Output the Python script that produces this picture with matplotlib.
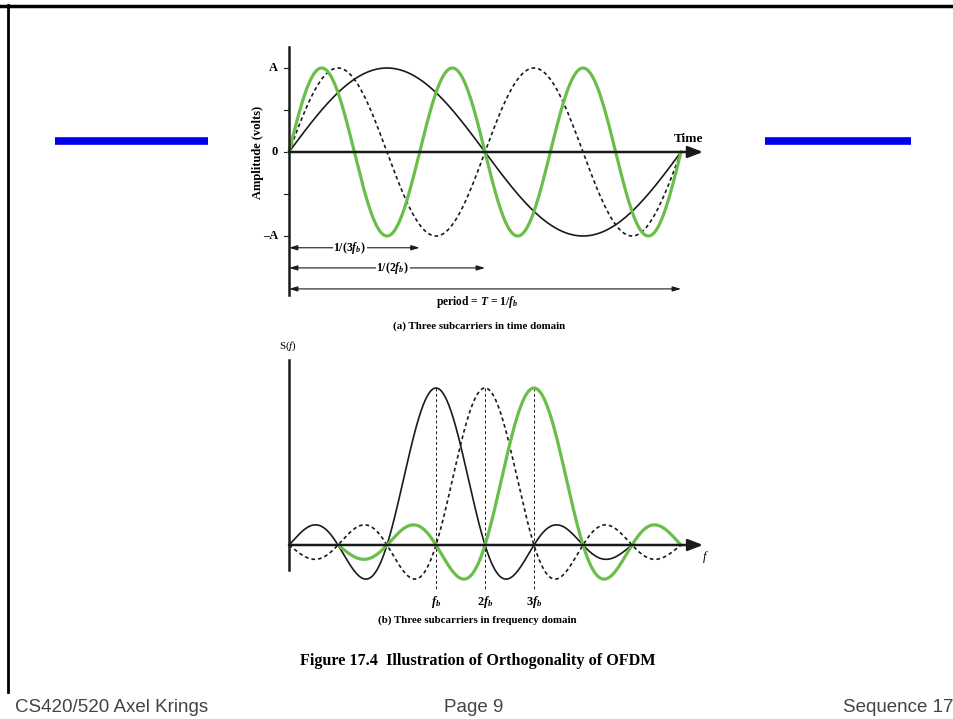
import numpy as np
import matplotlib
matplotlib.use('Agg')
import matplotlib.pyplot as plt

plt.rcParams['mathtext.fontset'] = 'custom'
plt.rcParams['mathtext.rm'] = 'Liberation Serif'
plt.rcParams['mathtext.it'] = 'Liberation Serif:italic'
plt.rcParams['mathtext.bf'] = 'Liberation Serif:italic:bold'

SERIF = 'Liberation Serif'
GREEN = '#6abf4b'

# time domain: harmonics of f_b over one period T
harmonics = [1, 2, 3]
time_styles = ['solid', 'dashed', 'green']
y_ticks = [1, 0.5, 0, -0.5, -1]
y_tick_labels = {1: 'A', 0: '0', -1: '\u2013A'}
span_ends = [1 / 3, 1 / 2, 1]
span_labels = [r'1/(3$\mathbf{f_b}$)', r'1/(2$\mathbf{f_b}$)',
               r'period = $\mathbf{T}$ = 1/$\mathbf{f_b}$']

# frequency domain: sinc spectra centred at f_b, 2f_b, 3f_b
centers = [1, 2, 3]
f_ranges = [(-2, 5), (-2, 6), (-1, 6)]
freq_styles = ['solid', 'dashed', 'green']
freq_tick_labels = [r'$\mathbf{f_b}$', r'2$\mathbf{f_b}$', r'3$\mathbf{f_b}$']

W, H = 954, 719
fig = plt.figure(figsize=(W / 100, H / 100), dpi=100)


def make_axes(px_left, px_top, px_right, px_bottom, x0px, xscale, y0px, yscale):
    ax = fig.add_axes([px_left / W, 1 - px_bottom / H,
                       (px_right - px_left) / W, (px_bottom - px_top) / H])
    ax.set_xlim((px_left - x0px) / xscale, (px_right - x0px) / xscale)
    ax.set_ylim((y0px - px_bottom) / yscale, (y0px - px_top) / yscale)
    ax.axis('off')
    return ax


def style_kw(s):
    if s == 'green':
        return dict(color=GREEN, lw=2.3, zorder=3)
    if s == 'dashed':
        return dict(color='#1a1a1a', lw=1.2, linestyle=(0, (2.2, 1.8)), zorder=2)
    return dict(color='#1a1a1a', lw=1.2, zorder=2)


arrow_head = dict(arrowstyle='-|>,head_length=0.9,head_width=0.35', color='#1a1a1a', lw=1.8,
                  shrinkA=0, shrinkB=0)
span_arrow = dict(arrowstyle='<|-|>,head_length=0.5,head_width=0.15', color='#1a1a1a', lw=0.8,
                  shrinkA=0, shrinkB=0)

# ---------- (a) time domain ----------
ax1 = make_axes(230, 30, 725, 335, 289, 392, 152, 84)
t = np.linspace(0, 1, 800)
for h, s in zip(harmonics, time_styles):
    ax1.plot(t, np.sin(2 * np.pi * h * t), **style_kw(s))

ax1.plot([0, 0], [-1.70, 1.25], color='#1a1a1a', lw=1.8, zorder=4)
ax1.annotate('', xy=(1.056, 0), xytext=(0, 0), arrowprops=arrow_head, zorder=4)
for v in y_ticks:
    ax1.plot([-0.013, 0], [v, v], color='#1a1a1a', lw=0.8)
    if v in y_tick_labels:
        ax1.text(-0.028, v, y_tick_labels[v], ha='right', va='center',
                 family=SERIF, weight='bold', fontsize=9)
ax1.text(-0.079, 0, 'Amplitude (volts)', rotation=90, ha='center', va='center',
         family=SERIF, weight='bold', fontsize=9)
ax1.text(1.056, 0.15, 'Time', ha='right', va='center', family=SERIF, weight='bold', fontsize=9.5)

span_y = [-1.14, -1.38, -1.63]
label_x = [0.155, 0.265, 0.48]
for end, lab, yy, lx in zip(span_ends, span_labels, span_y, label_x):
    ax1.annotate('', xy=(end, yy), xytext=(0, yy), arrowprops=span_arrow)
    if end < 1:
        ax1.text(lx, yy, lab, ha='center', va='center', family=SERIF, weight='bold',
                 fontsize=8.5, bbox=dict(facecolor='white', edgecolor='none', pad=0.5))
    else:
        ax1.text(lx, yy - 0.06, lab, ha='center', va='top', family=SERIF, weight='bold',
                 fontsize=8.3)
ax1.text(0.485, -2.07, '(a) Three subcarriers in time domain', ha='center', va='center',
         family=SERIF, weight='bold', fontsize=7.8)

# ---------- (b) frequency domain ----------
ax2 = make_axes(230, 335, 725, 640, 289 + 2 * 49, 49, 545, 157)
for c, (lo, hi), s in zip(centers, f_ranges, freq_styles):
    f = np.linspace(lo, hi, 800)
    ax2.plot(f, np.sinc(f - c), **style_kw(s))
    ax2.plot([c, c], [1, -0.29], color='#1a1a1a', lw=0.7, linestyle=(0, (3, 2.5)), zorder=1)

ax2.plot([-2, -2], [-0.16, 1.18], color='#1a1a1a', lw=1.8, zorder=4)
ax2.annotate('', xy=(6.45, 0), xytext=(-2, 0), arrowprops=arrow_head, zorder=4)
ax2.text(-2.02, 1.22, r'S($f$)', ha='center', va='bottom', family=SERIF, fontsize=8)
ax2.text(6.5, -0.075, r'$f$', ha='center', va='center', fontsize=9)
for c, lab in zip(centers, freq_tick_labels):
    ax2.text(c, -0.31, lab, ha='center', va='top', family=SERIF, weight='bold', fontsize=9)
ax2.text(1.84, -0.48, '(b) Three subcarriers in frequency domain', ha='center', va='center',
         family=SERIF, weight='bold', fontsize=7.8)

# ---------- slide decorations ----------
deco = fig.add_axes([0, 0, 1, 1], zorder=-1)
deco.set_xlim(0, W)
deco.set_ylim(H, 0)
deco.axis('off')
deco.plot([0, W], [5.5, 5.5], color='black', lw=2.5)
deco.plot([8, 8], [5, 692], color='black', lw=2)
deco.plot([55, 208], [140.5, 140.5], color='#0000ee', lw=5.5, solid_capstyle='butt')
deco.plot([765, 911], [140.5, 140.5], color='#0000ee', lw=5.5, solid_capstyle='butt')

fig.text(478 / W, 1 - 661 / H, 'Figure 17.4  Illustration of Orthogonality of OFDM',
         ha='center', va='center', family=SERIF, weight='bold', fontsize=11.7)
foot_y = 1 - 708 / H
fig.text(15 / W, foot_y, 'CS420/520 Axel Krings', ha='left', va='center',
         family='Liberation Sans', fontsize=13.5, color='#444444')
fig.text(474 / W, foot_y, 'Page 9', ha='center', va='center',
         family='Liberation Sans', fontsize=13.5, color='#444444')
fig.text(954 / W, foot_y, 'Sequence 17', ha='right', va='center',
         family='Liberation Sans', fontsize=13.5, color='#444444')

fig.savefig('out.png', dpi=100, facecolor='white')
